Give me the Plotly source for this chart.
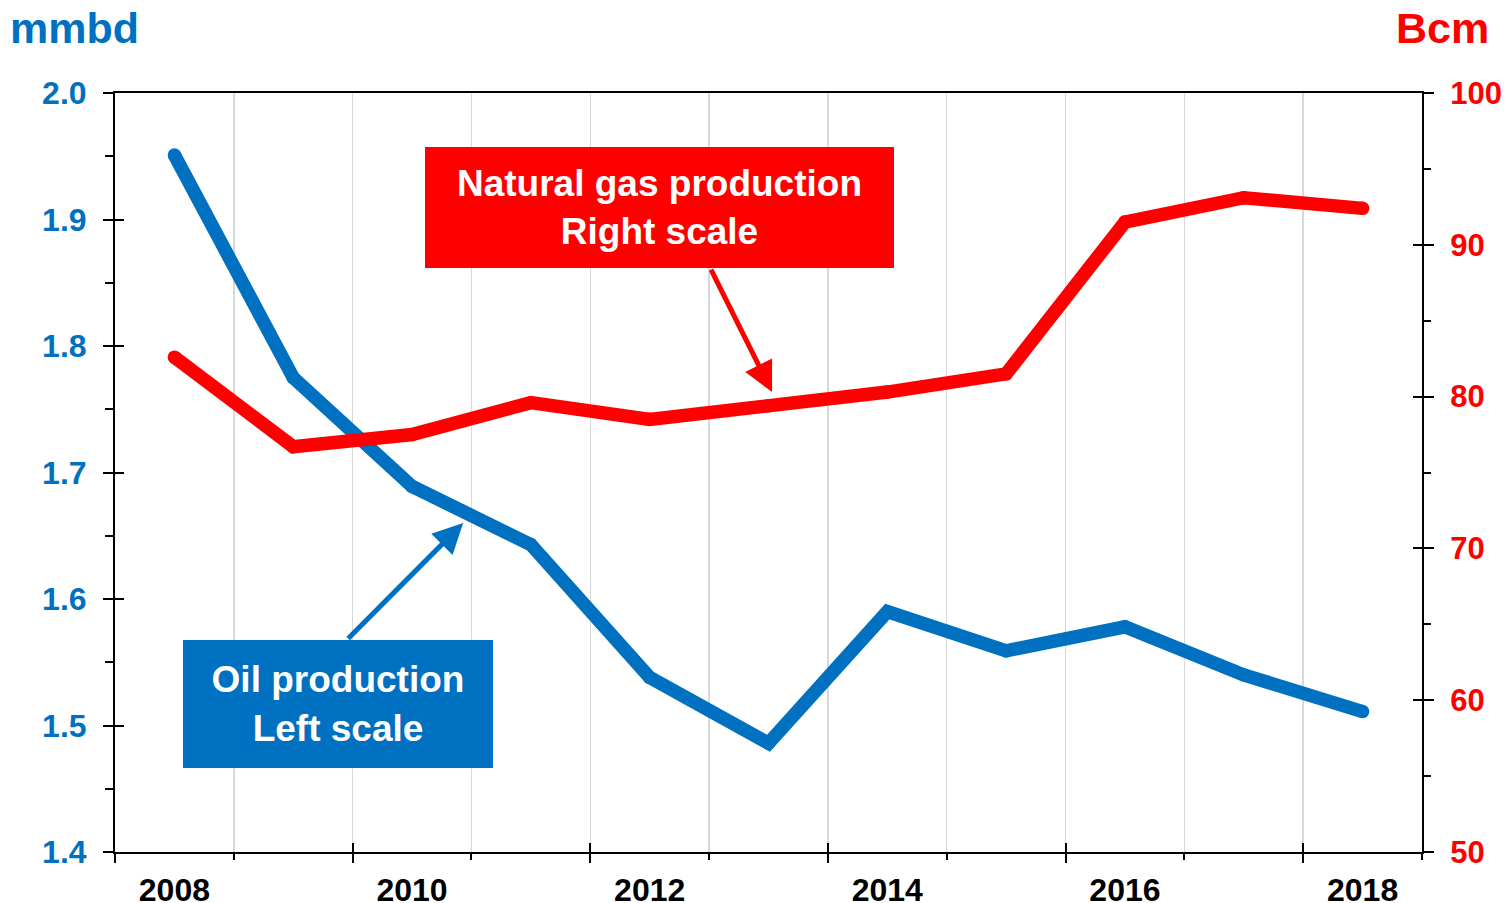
import plotly.graph_objects as go

years = list(range(2008, 2019))
oil_mmbd = [1.951, 1.775, 1.689, 1.643, 1.538, 1.486, 1.590, 1.559, 1.578, 1.540, 1.511]
gas_bcm = [82.6, 76.7, 77.5, 79.6, 78.5, 79.4, 80.3, 81.5, 91.5, 93.1, 92.4]
year_ticks = [2008, 2010, 2012, 2014, 2016, 2018]
year_labels = [str(y) for y in year_ticks]
major_bounds = [2007.5, 2009.5, 2011.5, 2013.5, 2015.5, 2017.5]
minor_bounds = [2008.5, 2010.5, 2012.5, 2014.5, 2016.5, 2018.5]
inner_bounds = [2009.5, 2011.5, 2013.5, 2015.5, 2017.5]

BLUE = "#0070C0"
RED = "#FF0000"
FONT = "Liberation Sans"
XR = [2007.5, 2018.5]
LW = 13.5

fig = go.Figure()
# helper traces so the tick-only overlay axes are rendered
for xa, ya in [("x3", "y"), ("x4", "y"), ("x", "y3"), ("x", "y4")]:
    fig.add_trace(go.Scatter(x=[None], y=[None], xaxis=xa, yaxis=ya, mode="lines",
                             showlegend=False, hoverinfo="skip"))
fig.add_trace(go.Scatter(x=years, y=gas_bcm, yaxis="y2", mode="lines+markers",
                         line=dict(color=RED, width=LW), marker=dict(color=RED, size=LW),
                         showlegend=False, hoverinfo="skip"))
fig.add_trace(go.Scatter(x=years, y=oil_mmbd, yaxis="y", mode="lines+markers",
                         line=dict(color=BLUE, width=LW), marker=dict(color=BLUE, size=LW),
                         showlegend=False, hoverinfo="skip"))

tick_common = dict(tickcolor="black", tickwidth=2)

fig.update_layout(
    width=1508, height=903,
    margin=dict(l=115, r=86, t=93, b=51, autoexpand=False),
    paper_bgcolor="white", plot_bgcolor="white",
    font=dict(family=FONT),
    xaxis=dict(range=XR, tickmode="array", tickvals=year_ticks, ticktext=year_labels,
               ticks="", showgrid=False, zeroline=False,
               showline=True, linecolor="black", linewidth=2, mirror=True,
               tickfont=dict(family=FONT, size=32, color="black", weight="bold"),
               ticklabelstandoff=9),
    xaxis3=dict(overlaying="x", anchor="y", range=XR, tickmode="array", tickvals=major_bounds,
                ticks="outside", ticklen=10, showticklabels=False,
                showgrid=True, gridcolor="#d9d9d9", gridwidth=1.5, zeroline=False, showline=False,
                minor=dict(tickmode="array", tickvals=minor_bounds, ticks="outside", ticklen=7,
                           tickcolor="black", tickwidth=2, showgrid=True,
                           gridcolor="#d9d9d9", gridwidth=1.5),
                **tick_common),
    xaxis4=dict(overlaying="x", anchor="y", range=XR, tickmode="array", tickvals=inner_bounds,
                ticks="inside", ticklen=9, showticklabels=False, showgrid=False,
                zeroline=False, showline=False, **tick_common),
    yaxis=dict(range=[1.4, 2.0], tickmode="linear", tick0=1.4, dtick=0.1, tickformat=".1f",
               ticks="outside", ticklen=10, showgrid=False, zeroline=False,
               showline=True, linecolor="black", linewidth=2,
               minor=dict(tick0=1.4, dtick=0.05, ticks="outside", ticklen=8,
                          tickcolor="black", tickwidth=2),
               tickfont=dict(family=FONT, size=32, color=BLUE, weight="bold"),
               ticklabelstandoff=10, **tick_common),
    yaxis3=dict(overlaying="y", anchor="x", side="left", range=[1.4, 2.0], tickmode="linear",
                tick0=1.4, dtick=0.1, ticks="inside", ticklen=9, showticklabels=False,
                showgrid=False, zeroline=False, showline=False, **tick_common),
    yaxis2=dict(overlaying="y", side="right", anchor="x", range=[50, 100], tickmode="linear",
                tick0=50, dtick=10, ticks="outside", ticklen=10, showgrid=False, zeroline=False,
                showline=True, linecolor="black", linewidth=2,
                minor=dict(tick0=50, dtick=5, ticks="outside", ticklen=7,
                           tickcolor="black", tickwidth=2),
                tickfont=dict(family=FONT, size=31, color=RED, weight="bold"),
                ticklabelstandoff=10, **tick_common),
    yaxis4=dict(overlaying="y", side="right", anchor="x", range=[50, 100], tickmode="linear",
                tick0=50, dtick=10, ticks="inside", ticklen=9, showticklabels=False,
                showgrid=False, zeroline=False, showline=False, **tick_common),
)

annotations = [
    # arrows
    dict(x=2013.03, y=80.3, xref="x", yref="y2", ax=2012.51, ay=88.47, axref="x", ayref="y2",
         text="", showarrow=True, arrowhead=2, arrowsize=1.2, arrowwidth=5, arrowcolor=RED,
         standoff=0, startstandoff=0),
    dict(x=2010.43, y=1.660, xref="x", yref="y", ax=2009.45, ay=1.5676, axref="x", ayref="y",
         text="", showarrow=True, arrowhead=2, arrowsize=1.2, arrowwidth=5, arrowcolor=BLUE,
         standoff=0, startstandoff=0),
    # boxes
    dict(x=0.4166, y=0.8491, xref="paper", yref="paper", xanchor="center", yanchor="middle",
         text="Natural gas production<br>Right scale", showarrow=False,
         bgcolor=RED, width=469, height=121, borderpad=0, borderwidth=0,
         font=dict(family=FONT, size=37, color="white", weight="bold"), align="center"),
    dict(x=0.1706, y=0.195, xref="paper", yref="paper", xanchor="center", yanchor="middle",
         text="Oil production<br>Left scale", showarrow=False,
         bgcolor=BLUE, width=310, height=128, borderpad=0, borderwidth=0,
         font=dict(family=FONT, size=37, color="white", weight="bold"), align="center"),
    # unit titles
    dict(x=-0.082, y=1.0856, xref="paper", yref="paper", xanchor="left", yanchor="middle",
         text="mmbd", showarrow=False,
         font=dict(family=FONT, size=43, color=BLUE, weight="bold")),
    dict(x=1.0528, y=1.0856, xref="paper", yref="paper", xanchor="right", yanchor="middle",
         text="Bcm", showarrow=False,
         font=dict(family=FONT, size=43, color=RED, weight="bold")),
]
fig.update_layout(annotations=annotations)

fig.write_html(
    "out.html",
    config={"displayModeBar": False, "staticPlot": True},
    post_script="document.body.style.margin='0';document.body.style.padding='0';"
                "document.body.style.overflow='hidden';",
)
